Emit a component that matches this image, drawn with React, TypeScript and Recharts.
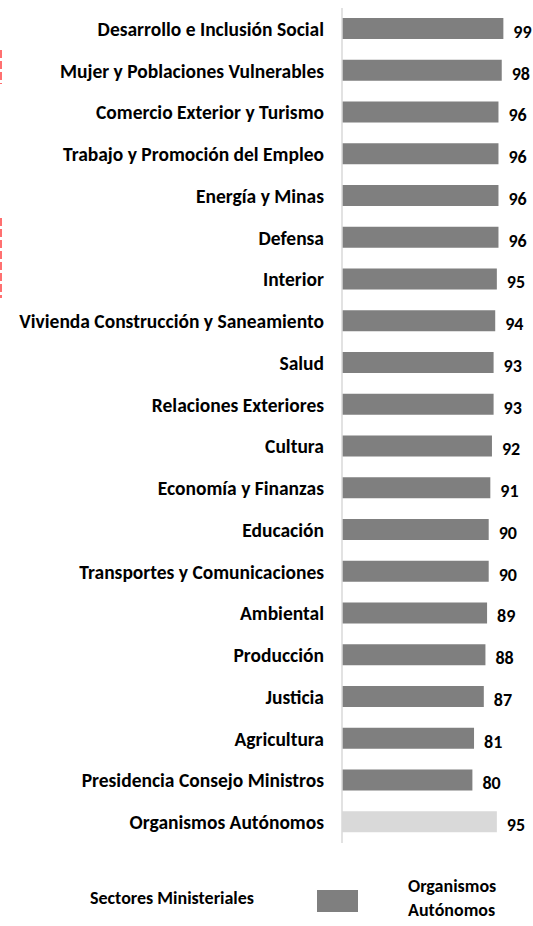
import React from "react";
import {
  BarChart,
  Bar,
  XAxis,
  YAxis,
  Cell,
  LabelList,
  Legend,
} from "recharts";

// sectors, top to bottom
const categories = [
  "Desarrollo e Inclusión Social",
  "Mujer y Poblaciones Vulnerables",
  "Comercio Exterior y Turismo",
  "Trabajo y Promoción del Empleo",
  "Energía y Minas",
  "Defensa",
  "Interior",
  "Vivienda Construcción y Saneamiento",
  "Salud",
  "Relaciones Exteriores",
  "Cultura",
  "Economía y Finanzas",
  "Educación",
  "Transportes y Comunicaciones",
  "Ambiental",
  "Producción",
  "Justicia",
  "Agricultura",
  "Presidencia Consejo Ministros",
  "Organismos Autónomos",
];

const values = [99, 98, 96, 96, 96, 96, 95, 94, 93, 93, 92, 91, 90, 90, 89, 88, 87, 81, 80, 95];

// 0 = Sectores Ministeriales, 1 = Organismos Autónomos
const groups = [0, 0, 0, 0, 0, 0, 0, 0, 0, 0, 0, 0, 0, 0, 0, 0, 0, 0, 0, 1];

const groupNames = ["Sectores Ministeriales", "Organismos Autónomos"];
const groupColors = ["#7f7f7f", "#d9d9d9"];

const data = categories.map((name, i) => ({
  name,
  value: values[i],
  group: groups[i],
}));

const FONT = "Carlito, Lato, 'Open Sans', sans-serif";

const LegendBox = () => (
  <div
    style={{
      position: "relative",
      height: 73,
      width: 533,
      fontFamily: FONT,
      fontWeight: 700,
      fontSize: 18,
      color: "#000",
    }}
  >
    <span style={{ position: "absolute", left: 90, top: 43, lineHeight: "24px", whiteSpace: "nowrap" }}>
      {groupNames[0]}
    </span>
    <span
      style={{
        position: "absolute",
        left: 317,
        top: 47,
        width: 41,
        height: 22,
        background: groupColors[0],
      }}
    />
    <span
      style={{
        position: "absolute",
        left: 408,
        top: 31,
        width: 110,
        lineHeight: "24px",
      }}
    >
      Organismos
      <br />
      Autónomos
    </span>
  </div>
);

export default function App() {
  return (
    <div style={{ position: "absolute", left: 0, top: 0, background: "#fff" }}>
      <BarChart
        width={533}
        height={926}
        data={data}
        layout="vertical"
        margin={{ top: 8, right: 28, bottom: 10, left: 0 }}
        barSize={21}
      >
        <XAxis type="number" domain={[0, 100]} hide />
        <YAxis
          type="category"
          dataKey="name"
          width={342}
          interval={0}
          tickLine={false}
          tickMargin={12}
          axisLine={{ stroke: "#d9d9d9", strokeWidth: 1.5 }}
          tick={{ fill: "#000", fontSize: 19.5, fontWeight: 700, fontFamily: FONT }}
        />
        <Legend
          verticalAlign="bottom"
          height={73}
          wrapperStyle={{ left: 0, width: 533 }}
          content={() => <LegendBox />}
        />
        <Bar dataKey="value" fill={groupColors[0]} isAnimationActive={false}>
          {data.map((d, i) => (
            <Cell key={`c-${i}`} fill={groupColors[d.group]} />
          ))}
          <LabelList
            dataKey="value"
            position="right"
            offset={10}
            dy={3}
            fill="#000"
            style={{ fontSize: 18, fontWeight: 700, fontFamily: FONT }}
          />
        </Bar>
        {/* red dashed edge from the neighbouring frame */}
        <line x1={1} y1={50} x2={1} y2={84} stroke="#ff7070" strokeWidth={2} strokeDasharray="8 3" />
        <line x1={1} y1={218} x2={1} y2={298} stroke="#ff7070" strokeWidth={2} strokeDasharray="8 3" />
      </BarChart>
    </div>
  );
}
